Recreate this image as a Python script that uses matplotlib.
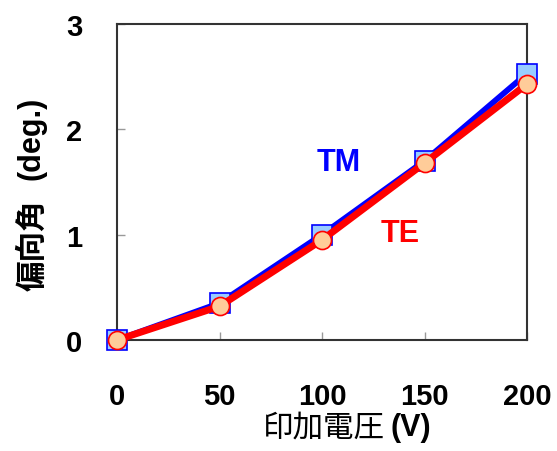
import matplotlib
matplotlib.use("Agg")
import matplotlib.pyplot as plt

plt.rcParams['font.family'] = ['Liberation Sans', 'Noto Sans CJK JP']

# data
voltage = [0, 50, 100, 150, 200]
tm_angle = [0.0, 0.35, 1.00, 1.70, 2.53]
te_angle = [0.0, 0.32, 0.95, 1.68, 2.43]

xticks = [0, 50, 100, 150, 200]
yticks = [0, 1, 2, 3]

fig = plt.figure(figsize=(5.57, 4.52), dpi=100)
ax = fig.add_axes([117 / 557, 1 - 341 / 452, 410 / 557, 316 / 452])

# TM (blue squares) under TE (red circles)
ax.plot(voltage, tm_angle, color='#0000ff', lw=4.2, marker='s', ms=14.5,
        mfc='#99ccff', mec='#0000ff', mew=1.2, clip_on=False, zorder=3)
ax.plot(voltage, te_angle, color='#ff0000', lw=5, marker='o', ms=13,
        mfc='#ffcc99', mec='#ff0000', mew=1.2, clip_on=False, zorder=4)

ax.set_xlim(0, 200)
ax.set_ylim(0, 3)
ax.set_xticks(xticks)
ax.set_yticks(yticks)
ax.tick_params(direction='in', length=6, width=1, color='#999999',
               labelsize=21, pad=25)
ax.tick_params(axis='x', pad=30)
for lbl in ax.get_xticklabels() + ax.get_yticklabels():
    lbl.set_fontweight('bold')

for sp in ax.spines.values():
    sp.set_color('#333333')
    sp.set_linewidth(1.5)

ax.text(108, 1.69, 'TM', color='#0000ff', fontsize=22, fontweight='bold',
        ha='center', va='center')
ax.text(138, 1.02, 'TE', color='#ff0000', fontsize=22, fontweight='bold',
        ha='center', va='center')

# axis labels: CJK part and latin part have different weights
fig.text(385 / 557, 1 - 428 / 452, '印加電圧', fontsize=22,
         family='Noto Sans CJK JP', ha='right', va='center')
fig.text(391 / 557, 1 - 428 / 452, '(V)', fontsize=22, fontweight='bold',
         ha='left', va='center')
fig.text(32 / 557, 1 - 291 / 452, '偏向角', fontsize=22, fontweight='bold',
         family='Noto Sans CJK JP', rotation=90, ha='center', va='bottom')
fig.text(32 / 557, 1 - 180 / 452, '(deg.)', fontsize=22, fontweight='bold',
         rotation=90, ha='center', va='bottom')

fig.savefig('out.png', dpi=100)
